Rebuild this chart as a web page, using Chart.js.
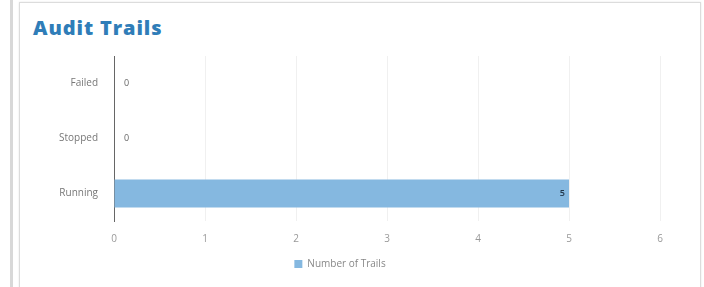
<!DOCTYPE html>
<html>
<head>
<meta charset="utf-8">
<script src="https://cdn.jsdelivr.net/npm/chart.js@4"></script>
<style>
  body { margin: 0; background: #fff; width: 704px; height: 287px; overflow: hidden; position: relative; font-family: "Open Sans", sans-serif; }
  .rail { position: absolute; left: 10px; top: 0; width: 3px; height: 287px; background: #d8d8d8; }
  .card { position: absolute; left: 19px; top: 2px; width: 680px; height: 290px; border: 1px solid #dcdcdc; border-bottom: none; box-shadow: 0 0 2px #e6e6e6; }
  h3 { position: absolute; left: 13px; top: 13px; margin: 0; font-size: 20px; line-height: 24px; font-weight: 800; letter-spacing: 0.9px; color: #2f7db8; }
  .wrap { position: absolute; left: 0; top: 39px; width: 680px; height: 242px; }
</style>
</head>
<body>
<div class="rail"></div>
<div class="card">
  <h3>Audit Trails</h3>
  <div class="wrap"><canvas id="auditChart"></canvas></div>
</div>
<script>
  const categories = ['Failed', 'Stopped', 'Running'];
  const trailCounts = [0, 0, 5];
  const seriesLabel = 'Number of Trails';

  // simple value labels next to each bar
  const valueLabels = {
    id: 'valueLabels',
    afterDatasetsDraw(chart) {
      const ctx = chart.ctx;
      const meta = chart.getDatasetMeta(0);
      ctx.save();
      ctx.textBaseline = 'middle';
      meta.data.forEach((bar, i) => {
        const v = trailCounts[i];
        if (v > 0) {
          ctx.font = '600 9px "Open Sans"';
          ctx.fillStyle = '#1f3346';
          ctx.textAlign = 'right';
          ctx.fillText(v, bar.x - 4, bar.y);
        } else {
          ctx.font = '9px "Open Sans"';
          ctx.fillStyle = '#666';
          ctx.textAlign = 'left';
          ctx.fillText(v, bar.x + 10, bar.y);
        }
      });
      ctx.restore();
    }
  };

  const ctx = document.getElementById('auditChart').getContext('2d');
  new Chart(ctx, {
    type: 'bar',
    data: {
      labels: categories,
      datasets: [{
        label: seriesLabel,
        data: trailCounts,
        backgroundColor: '#85b8e0',
        barPercentage: 0.6,
        categoryPercentage: 0.85
      }]
    },
    options: {
      indexAxis: 'y',
      responsive: true,
      maintainAspectRatio: false,
      animation: false,
      layout: { padding: { top: 13, right: 40, bottom: 5 } },
      plugins: {
        legend: {
          position: 'bottom',
          labels: { boxWidth: 8, boxHeight: 8, padding: 2, color: '#888', font: { family: 'Open Sans', size: 10 } }
        },
        tooltip: { enabled: false }
      },
      scales: {
        x: {
          min: 0, max: 6,
          ticks: { stepSize: 1, color: '#999', font: { family: 'Open Sans', size: 10 }, padding: 12 },
          grid: { color: '#f0f0f0', drawTicks: false },
          border: { display: false }
        },
        y: {
          ticks: { color: '#777', font: { family: 'Open Sans', size: 10 }, padding: 8 },
          grid: { display: false },
          border: { color: '#666', width: 1 },
          afterFit(scale) { scale.width = 94; }
        }
      }
    },
    plugins: [valueLabels]
  });
</script>
</body>
</html>
